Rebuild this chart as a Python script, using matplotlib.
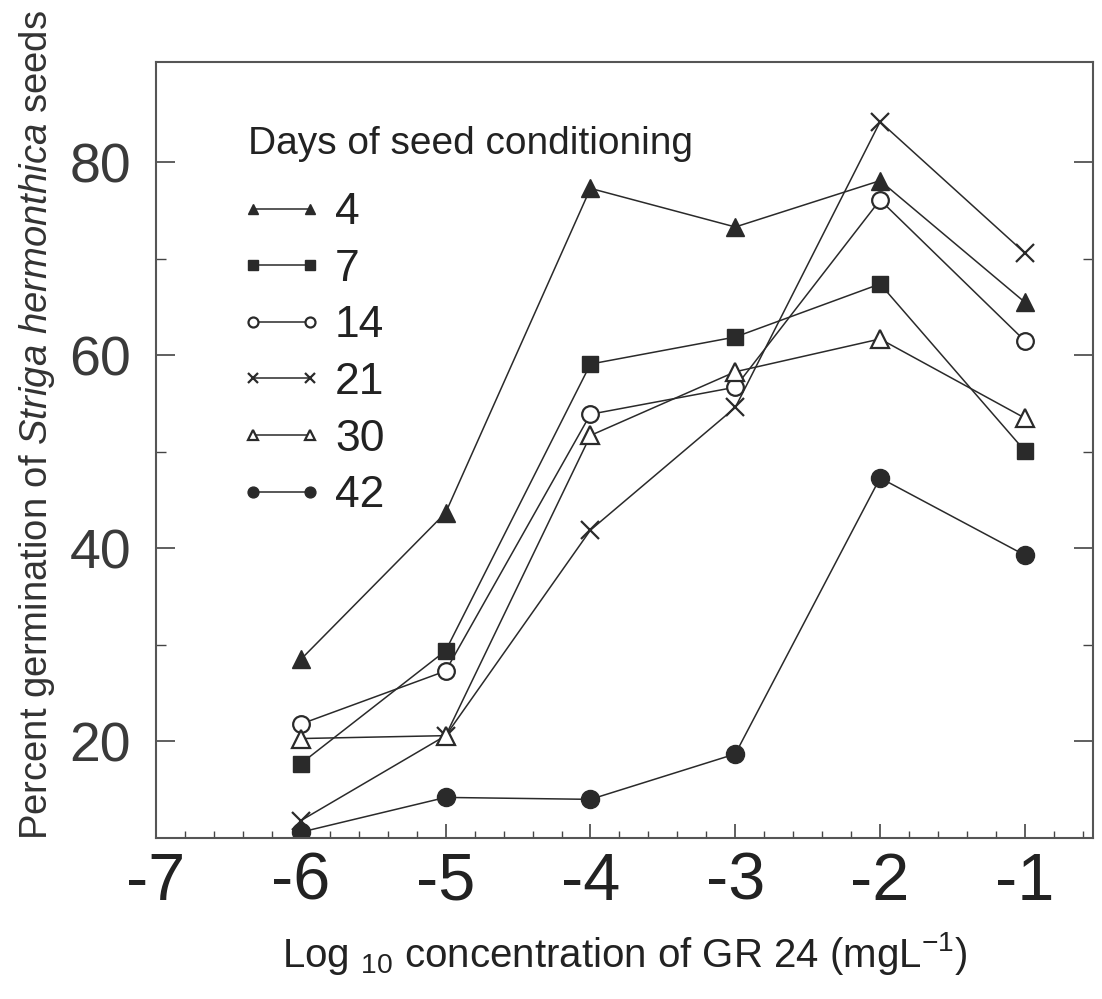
import matplotlib
matplotlib.use("Agg")
import matplotlib.pyplot as plt
from matplotlib.ticker import MultipleLocator, FixedLocator
#libraries for the figure

log_conc = [-6, -5, -4, -3, -2, -1]
#x values: log10 concentration of GR 24
days = ['4', '7', '14', '21', '30', '42']
#days of seed conditioning, one line for each
germ_4 = [28.5, 43.7, 77.3, 73.3, 78.1, 65.5]
germ_7 = [17.7, 29.4, 59.1, 61.9, 67.4, 50.1]
germ_14 = [21.8, 27.3, 53.9, 56.7, 76.1, 61.5]
germ_21 = [11.8, 20.6, 41.9, 54.6, 84.2, 70.6]
germ_30 = [20.3, 20.6, 51.7, 58.3, 61.7, 53.5]
germ_42 = [10.6, 14.2, 14.0, 18.7, 47.3, 39.3]
#percent germination
x_ticks = [-7, -6, -5, -4, -3, -2, -1]
y_ticks = [20, 40, 60, 80]

plt.rcParams['font.family'] = ['Liberation Sans', 'DejaVu Sans']
plt.rcParams['mathtext.fontset'] = 'custom'
plt.rcParams['mathtext.rm'] = 'Liberation Sans'
plt.rcParams['mathtext.it'] = 'Liberation Sans:italic'
plt.rcParams['axes.unicode_minus'] = False
#plain hyphen for the minus sign like the scanned figure

fig = plt.figure(figsize=(11.02, 9.99), dpi=100)
ax = fig.add_axes([0.1416, 0.1612, 0.8502, 0.7768])

ink = '#2a2a2a'
ax.plot(log_conc, germ_4, color=ink, lw=1.1, marker='^', ms=13, mfc=ink, mec=ink, label=days[0])
ax.plot(log_conc, germ_7, color=ink, lw=1.1, marker='s', ms=11, mfc=ink, mec=ink, label=days[1])
ax.plot(log_conc, germ_14, color=ink, lw=1.1, marker='o', ms=12, mfc='white', mec=ink, mew=1.6, label=days[2])
ax.plot(log_conc, germ_21, color=ink, lw=1.1, marker='x', ms=13, mec=ink, mew=1.6, label=days[3])
ax.plot(log_conc, germ_30, color=ink, lw=1.1, marker='^', ms=13, mfc='white', mec=ink, mew=1.6, label=days[4])
ax.plot(log_conc, germ_42, color=ink, lw=1.1, marker='o', ms=13, mfc=ink, mec=ink, label=days[5])
#one line with markers for each conditioning period

ax.set_xlim(-7, -0.53)
ax.set_ylim(10, 90.4)
ax.set_xticks(x_ticks)
ax.set_xticklabels([str(t) for t in x_ticks])
ax.set_yticks(y_ticks)
ax.xaxis.set_minor_locator(MultipleLocator(0.2))
ax.yaxis.set_minor_locator(FixedLocator([30, 50, 70]))
ax.tick_params(axis='x', which='major', direction='in', length=10, width=1.2, color='#444444',
               labelsize=48, pad=10, labelcolor='#222222')
ax.tick_params(axis='x', which='minor', direction='in', length=5, width=1.0, color='#444444')
ax.tick_params(axis='y', which='major', direction='in', length=14, width=1.2, color='#444444',
               right=True, labelsize=40, pad=18, labelcolor='#3a3a3a')
ax.tick_params(axis='y', which='minor', direction='in', length=7, width=1.0, color='#444444', right=True)
for s in ax.spines.values():
    s.set_color('#555555')
    s.set_linewidth(1.5)
#ticks inside the box, y ticks mirrored on the right

ax.set_xlabel('Log $_{10}$ concentration of GR 24 (mgL$^{-1}$)', fontsize=29, color='#222222')
ax.xaxis.set_label_coords(0.5005, -0.119)
ax.set_ylabel('Percent germination of $\\mathit{Striga\\ hermonthica}$ seeds', fontsize=27.5, color='#333333')
ax.yaxis.set_label_coords(-0.106, 0.532)

ax.text(0.098, 0.918, 'Days of seed conditioning', transform=ax.transAxes, ha='left', va='top',
        fontsize=28, color='#222222')
#heading of the legend
leg = ax.legend(loc='upper left', bbox_to_anchor=(0.0896, 0.832), frameon=False, numpoints=2,
                markerscale=0.6, fontsize=32, handlelength=1.87, handletextpad=0.27,
                labelspacing=0.35, borderaxespad=0, borderpad=0)
for t in leg.get_texts():
    t.set_color('#222222')
#legend with the six conditioning periods

plt.savefig('out.png', dpi=100)
